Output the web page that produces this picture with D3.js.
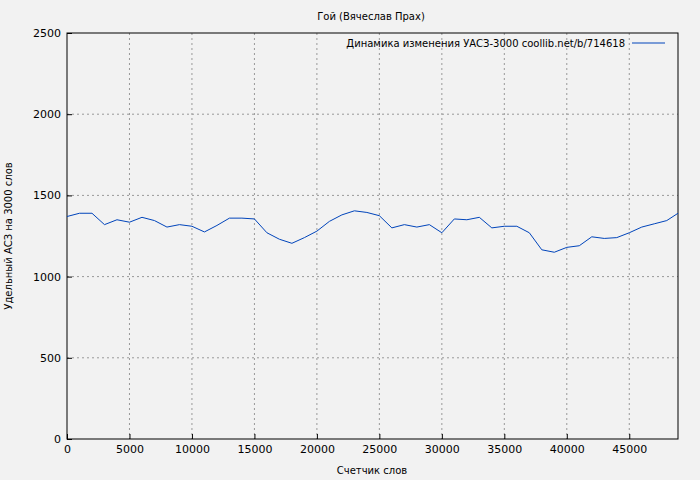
<!DOCTYPE html>
<html><head><meta charset="utf-8">
<script src="https://cdn.jsdelivr.net/npm/d3@7"></script>
<style>body{margin:0;background:#f2f2f2}svg{font-family:"DejaVu Sans",sans-serif;font-size:10px}</style>
</head><body><svg id="c" width="700" height="480"></svg>
<script>
const words = [0,1000,2000,3000,4000,5000,6000,7000,8000,9000,10000,11000,12000,13000,14000,15000,16000,17000,18000,19000,20000,21000,22000,23000,24000,25000,26000,27000,28000,29000,30000,31000,32000,33000,34000,35000,36000,37000,38000,39000,40000,41000,42000,43000,44000,45000,46000,47000,48000,48900]
const uasz = [1370,1390,1390,1320,1350,1335,1365,1345,1305,1320,1310,1275,1315,1360,1360,1355,1270,1230,1205,1240,1280,1340,1380,1405,1395,1375,1300,1320,1305,1320,1270,1355,1350,1365,1300,1310,1310,1270,1165,1150,1180,1190,1245,1235,1240,1270,1305,1325,1345,1390]
const xTicks = [0,5000,10000,15000,20000,25000,30000,35000,40000,45000]
const yTicks = [0,500,1000,1500,2000,2500]

const svg = d3.select('#c')
const m = {l: 67, r: 678, t: 33, b: 439}
const x = d3.scaleLinear().domain([0, 48900]).range([m.l, m.r])
const y = d3.scaleLinear().domain([0, 2500]).range([m.b, m.t])

// grid
svg.append('g').selectAll('line').data(xTicks.slice(1)).enter().append('line')
  .attr('x1', d => x(d)).attr('x2', d => x(d)).attr('y1', m.t).attr('y2', m.b)
  .attr('stroke', '#999').attr('stroke-dasharray', '2,3')
svg.append('g').selectAll('line').data(yTicks.slice(1, -1)).enter().append('line')
  .attr('y1', d => y(d)).attr('y2', d => y(d)).attr('x1', m.l).attr('x2', m.r)
  .attr('stroke', '#999').attr('stroke-dasharray', '2,3')

svg.append('rect').attr('x', m.l).attr('y', m.t).attr('width', m.r - m.l).attr('height', m.b - m.t)
  .attr('fill', 'none').attr('stroke', '#000')

const xa = svg.append('g').attr('transform', `translate(0,${m.b})`)
  .call(d3.axisBottom(x).tickValues(xTicks).tickSize(-5).tickPadding(6).tickFormat(d3.format('d')))
const ya = svg.append('g').attr('transform', `translate(${m.l},0)`)
  .call(d3.axisLeft(y).tickValues(yTicks).tickSize(-5).tickPadding(6).tickFormat(d3.format('d')))
;[xa, ya].forEach(a => { a.select('.domain').remove(); a.selectAll('text').attr('font-size', 11).attr('font-family', 'DejaVu Sans').attr('fill', '#000') })

svg.append('path').datum(words.map((w, i) => [w, uasz[i]]))
  .attr('d', d3.line().x(d => x(d[0])).y(d => y(d[1])))
  .attr('fill', 'none').attr('stroke', '#0044bb').attr('stroke-width', 1)

svg.append('text').attr('x', 371).attr('y', 20).attr('text-anchor', 'middle').text('Гой (Вячеслав Прах)')
svg.append('text').attr('x', 372).attr('y', 474).attr('text-anchor', 'middle').text('Счетчик слов')
svg.append('text').attr('transform', 'translate(12,236) rotate(-90)').attr('text-anchor', 'middle').text('Удельный АСЗ на 3000 слов')
svg.append('text').attr('x', 625).attr('y', 47).attr('text-anchor', 'end').text('Динамика изменения УАСЗ-3000 coollib.net/b/714618')
svg.append('line').attr('x1', 632).attr('x2', 665).attr('y1', 43).attr('y2', 43).attr('stroke', '#0044bb')
</script></body></html>
